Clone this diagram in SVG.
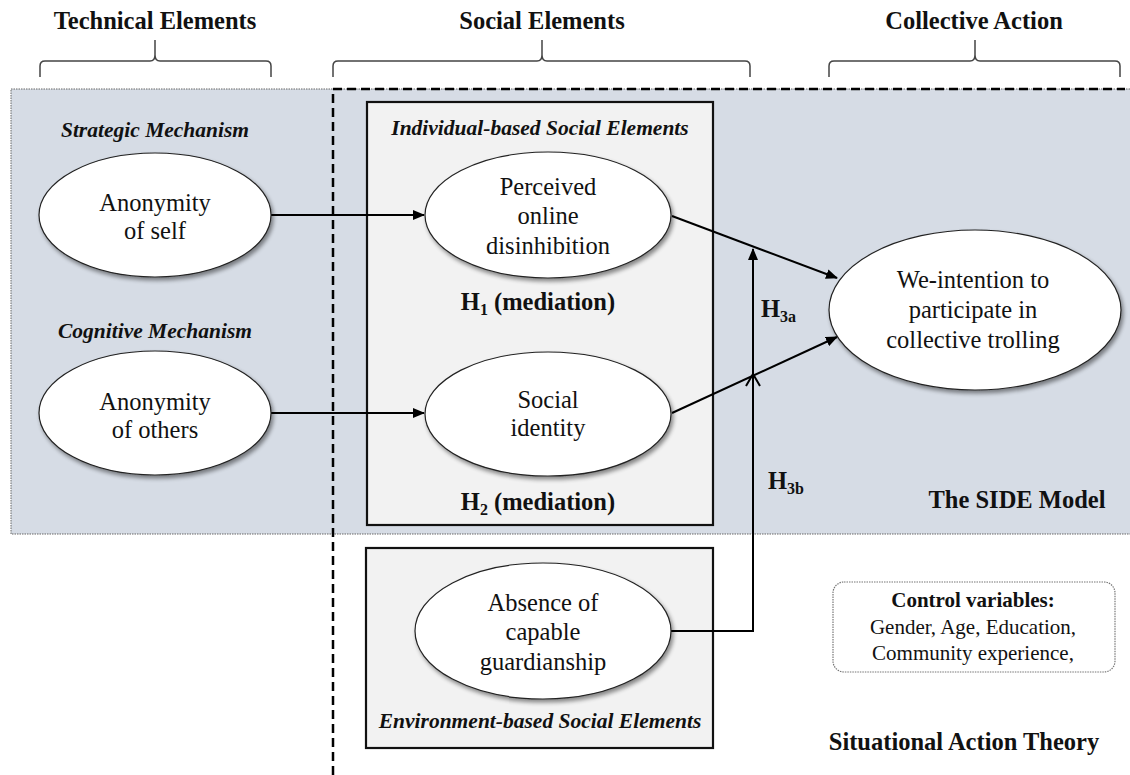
<svg xmlns="http://www.w3.org/2000/svg" width="1130" height="775" viewBox="0 0 1130 775">
<defs>
<style>
text{font-family:'Liberation Serif','Times New Roman',serif;fill:#111}
.title{font-weight:bold;font-size:24.5px;text-anchor:middle}
.sub{font-weight:bold;font-style:italic;font-size:21.5px;text-anchor:middle}
.node{font-size:24.5px;text-anchor:middle}
.hyp{font-weight:bold;font-size:24.5px}
.brace{fill:none;stroke:#444;stroke-width:1.5}
.ell{fill:#fff;stroke:#222;stroke-width:1.2;filter:url(#sh)}
.box{fill:#f2f2f2;stroke:#111;stroke-width:2.2}
.conn{fill:none;stroke:#000;stroke-width:2}
.ctl{font-size:21px;text-anchor:middle}
</style>
<filter id="sh" x="-10%" y="-10%" width="125%" height="130%">
<feGaussianBlur in="SourceAlpha" stdDeviation="2"/>
<feOffset dx="2" dy="3" result="b"/>
<feComponentTransfer><feFuncA type="linear" slope="0.45"/></feComponentTransfer>
<feMerge><feMergeNode/><feMergeNode in="SourceGraphic"/></feMerge>
</filter>
<marker id="arr" markerWidth="12" markerHeight="10" refX="11" refY="5" orient="auto" markerUnits="userSpaceOnUse">
<path d="M0,0 L12,5 L0,10 Z" fill="#000"/>
</marker>
</defs>

<!-- background regions -->
<rect x="11" y="89" width="1125" height="445" fill="#d6dce5" stroke="#666" stroke-width="1" stroke-dasharray="1.5,1"/>
<path d="M333,775 L333,89 L1125,89" fill="none" stroke="#000" stroke-width="2.5" stroke-dasharray="9,5"/>

<!-- titles and braces -->
<g id="hdr-technical">
<text class="title" x="155" y="29">Technical Elements</text>
<path class="brace" d="M40,77 L40,66 Q40,61 45,61 L150,61 Q155,61 155,55 L155,40 M155,55 Q155,61 160,61 L266,61 Q271,61 271,66 L271,77"/>
</g>
<g id="hdr-social">
<text class="title" x="542" y="29">Social Elements</text>
<path class="brace" d="M333,77 L333,66 Q333,61 338,61 L537,61 Q542,61 542,55 L542,40 M542,55 Q542,61 547,61 L745,61 Q750,61 750,66 L750,77"/>
</g>
<g id="hdr-collective">
<text class="title" x="974" y="29">Collective Action</text>
<path class="brace" d="M829,77 L829,66 Q829,61 834,61 L970,61 Q975,61 975,55 L975,40 M975,55 Q975,61 980,61 L1115,61 Q1120,61 1120,66 L1120,77"/>
</g>

<!-- boxes -->
<g id="box-individual">
<rect class="box" x="367" y="102" width="346" height="423"/>
<text class="sub" x="540" y="135">Individual-based Social Elements</text>
<text class="hyp" x="538" y="310" text-anchor="middle">H<tspan font-size="16" dy="5">1</tspan><tspan dy="-5"> (mediation)</tspan></text>
<text class="hyp" x="538" y="510" text-anchor="middle">H<tspan font-size="16" dy="5">2</tspan><tspan dy="-5"> (mediation)</tspan></text>
</g>
<g id="box-environment">
<rect class="box" x="366" y="548" width="347" height="200"/>
<text class="sub" x="540" y="728">Environment-based Social Elements</text>
</g>

<!-- section labels -->
<text class="sub" x="155" y="137">Strategic Mechanism</text>
<text class="sub" x="155" y="338">Cognitive Mechanism</text>
<text class="hyp" x="1017" y="508" text-anchor="middle">The SIDE Model</text>
<text class="hyp" x="964" y="750" text-anchor="middle">Situational Action Theory</text>

<!-- connectors -->
<g id="connectors">
<line class="conn" x1="271" y1="215" x2="424" y2="215" marker-end="url(#arr)"/>
<line class="conn" x1="271" y1="413" x2="424" y2="413" marker-end="url(#arr)"/>
<line class="conn" x1="672" y1="216" x2="837" y2="278" marker-end="url(#arr)"/>
<line class="conn" x1="672" y1="413" x2="837" y2="337" marker-end="url(#arr)"/>
<path class="conn" d="M671,631 L753,631 L753,249" marker-end="url(#arr)"/>
<path d="M746,386 L753,374 L760,386" fill="none" stroke="#000" stroke-width="2"/>
<text class="hyp" x="761" y="317">H<tspan font-size="16" dy="5">3a</tspan></text>
<text class="hyp" x="768" y="489">H<tspan font-size="16" dy="5">3b</tspan></text>
</g>

<!-- nodes -->
<g id="n-anon-self">
<ellipse class="ell" cx="155" cy="215" rx="116" ry="62"/>
<text class="node" x="155" y="211">Anonymity</text>
<text class="node" x="155" y="239">of self</text>
</g>
<g id="n-anon-others">
<ellipse class="ell" cx="155" cy="413" rx="116" ry="62"/>
<text class="node" x="155" y="410">Anonymity</text>
<text class="node" x="155" y="438">of others</text>
</g>
<g id="n-disinhibition">
<ellipse class="ell" cx="548" cy="215" rx="123" ry="63"/>
<text class="node" x="548" y="195">Perceived</text>
<text class="node" x="548" y="224">online</text>
<text class="node" x="548" y="254">disinhibition</text>
</g>
<g id="n-identity">
<ellipse class="ell" cx="548" cy="414" rx="123" ry="62"/>
<text class="node" x="548" y="408">Social</text>
<text class="node" x="548" y="436">identity</text>
</g>
<g id="n-weintention">
<ellipse class="ell" cx="975" cy="310" rx="146" ry="80"/>
<text class="node" x="973" y="288">We-intention to</text>
<text class="node" x="973" y="318">participate in</text>
<text class="node" x="973" y="348">collective trolling</text>
</g>
<g id="n-guardianship">
<ellipse class="ell" cx="543" cy="631" rx="128" ry="68"/>
<text class="node" x="543" y="611">Absence of</text>
<text class="node" x="543" y="640">capable</text>
<text class="node" x="543" y="670">guardianship</text>
</g>
<g id="n-control">
<rect x="833" y="582" width="282" height="90" rx="11" fill="#fff" stroke="#777" stroke-width="1.2" stroke-dasharray="1.5,1"/>
<text class="ctl" x="973" y="607" font-weight="bold">Control variables:</text>
<text class="ctl" x="973" y="634">Gender, Age, Education,</text>
<text class="ctl" x="973" y="660">Community experience,</text>
</g>
</svg>
